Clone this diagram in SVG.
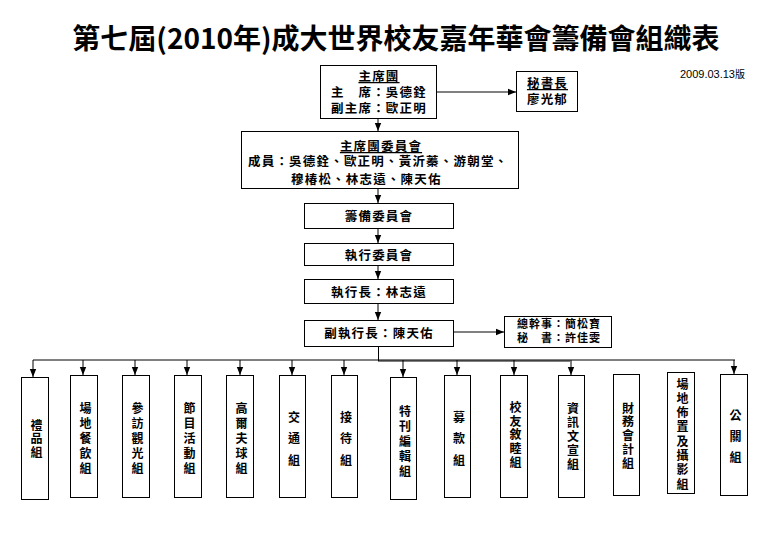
<svg xmlns="http://www.w3.org/2000/svg" width="780" height="540" viewBox="0 0 780 540">
<defs>
<style>
.bx{fill:#fff;stroke:#000;stroke-width:1}
.t{font-family:"Liberation Sans","Noto Sans CJK TC","Noto Sans CJK SC",sans-serif;font-weight:700;font-size:12.5px;letter-spacing:1.2px;fill:#000}
.s{font-family:"Liberation Sans","Noto Sans CJK TC","Noto Sans CJK SC",sans-serif;font-weight:700;font-size:11px;letter-spacing:1px;fill:#000}
.v{font-family:"Liberation Sans","Noto Sans CJK TC","Noto Sans CJK SC",sans-serif;font-weight:700;font-size:12px;fill:#000;writing-mode:vertical-rl;text-anchor:start}
.m{text-anchor:middle}
.ln{fill:none;stroke:#000;stroke-width:1}
</style>
<marker id="ah" viewBox="0 0 8 8" refX="8" refY="4" markerWidth="8" markerHeight="8" markerUnits="userSpaceOnUse" orient="auto">
<path d="M0,0.8 L8,4 L0,7.2 Z" fill="#000"/>
</marker>
</defs>
<rect width="780" height="540" fill="#fff"/>
<text x="396" y="49" font-family="'Noto Sans CJK TC','Noto Sans CJK SC',sans-serif" font-weight="700" font-size="28" text-anchor="middle">第七屆(2010年)成大世界校友嘉年華會籌備會組織表</text>
<text x="745" y="78" font-family="'Liberation Sans',Arial,'Noto Sans CJK TC',sans-serif" font-size="11" text-anchor="end">2009.03.13<tspan font-size="10">版</tspan></text>

<g id="connectors">
<line class="ln" x1="436" y1="92" x2="516" y2="92" marker-end="url(#ah)"/>
<line class="ln" x1="378" y1="118" x2="378" y2="131" marker-end="url(#ah)"/>
<line class="ln" x1="378" y1="189" x2="378" y2="203" marker-end="url(#ah)"/>
<line class="ln" x1="378" y1="228" x2="378" y2="243" marker-end="url(#ah)"/>
<line class="ln" x1="378" y1="266" x2="378" y2="279" marker-end="url(#ah)"/>
<line class="ln" x1="378" y1="303" x2="378" y2="320" marker-end="url(#ah)"/>
<line class="ln" x1="453" y1="332" x2="504" y2="332" marker-end="url(#ah)"/>
<line class="ln" x1="378.5" y1="346" x2="378.5" y2="361"/>
<line class="ln" x1="33" y1="360" x2="735" y2="360"/>
<line class="ln" x1="378" y1="361" x2="570" y2="361"/>
<line class="ln" x1="33" y1="360" x2="33" y2="377" marker-end="url(#ah)"/>
<line class="ln" x1="83" y1="360" x2="83" y2="375" marker-end="url(#ah)"/>
<line class="ln" x1="135" y1="360" x2="135" y2="375" marker-end="url(#ah)"/>
<line class="ln" x1="187" y1="360" x2="187" y2="375" marker-end="url(#ah)"/>
<line class="ln" x1="240" y1="360" x2="240" y2="375" marker-end="url(#ah)"/>
<line class="ln" x1="292" y1="360" x2="292" y2="375" marker-end="url(#ah)"/>
<line class="ln" x1="344" y1="360" x2="344" y2="375" marker-end="url(#ah)"/>
<line class="ln" x1="403" y1="360" x2="403" y2="377" marker-end="url(#ah)"/>
<line class="ln" x1="457" y1="360" x2="457" y2="375" marker-end="url(#ah)"/>
<line class="ln" x1="514" y1="360" x2="514" y2="375" marker-end="url(#ah)"/>
<line class="ln" x1="571" y1="360" x2="571" y2="375" marker-end="url(#ah)"/>
<line class="ln" x1="734" y1="360" x2="734" y2="374" marker-end="url(#ah)"/>
</g>

<g id="n-chair">
<rect class="bx" x="320.5" y="65.5" width="116" height="53"/>
<text class="t m" x="379" y="81" text-decoration="underline">主席團</text>
<text class="t m" x="379" y="97">主　席：吳德銓</text>
<text class="t m" x="379" y="113">副主席：歐正明</text>
</g>
<g id="n-secgen">
<rect class="bx" x="516.5" y="71.5" width="61" height="40"/>
<text class="t m" x="547.5" y="88" text-decoration="underline">秘書長</text>
<text class="t m" x="547.5" y="104">廖光郁</text>
</g>
<g id="n-committee">
<rect class="bx" x="241.5" y="131.5" width="277" height="57"/>
<text class="t m" x="381" y="151" text-decoration="underline">主席團委員會</text>
<text class="t" x="248" y="166">成員：吳德銓、歐正明、黃沂蓁、游朝堂、</text>
<text class="t" x="291" y="184">穆椿松、林志遠、陳天佑</text>
</g>
<g id="n-prep">
<rect class="bx" x="304.5" y="203.5" width="149" height="25"/>
<text class="t m" x="379" y="221">籌備委員會</text>
</g>
<g id="n-exec">
<rect class="bx" x="304.5" y="243.5" width="149" height="22"/>
<text class="t m" x="379" y="260">執行委員會</text>
</g>
<g id="n-ceo">
<rect class="bx" x="304.5" y="279.5" width="149" height="24"/>
<text class="t m" x="379" y="297">執行長：林志遠</text>
</g>
<g id="n-vceo">
<rect class="bx" x="304.5" y="320.5" width="149" height="26"/>
<text class="t m" x="379" y="338">副執行長：陳天佑</text>
</g>
<g id="n-staff">
<rect class="bx" x="504.5" y="316.5" width="107" height="31"/>
<text class="s m" x="559" y="328">總幹事：簡松寶</text>
<text class="s m" x="559" y="342">秘　書：許佳雯</text>
</g>

<g id="g1"><rect class="bx" x="21.5" y="377.5" width="27" height="122"/>
<text class="v" x="35" y="419" letter-spacing="1.5">禮品組</text></g>
<g id="g2"><rect class="bx" x="70.5" y="375.5" width="27" height="122"/>
<text class="v" x="84" y="402" letter-spacing="3">場地餐飲組</text></g>
<g id="g3"><rect class="bx" x="122.5" y="375.5" width="27" height="122"/>
<text class="v" x="136" y="402" letter-spacing="3">參訪觀光組</text></g>
<g id="g4"><rect class="bx" x="174.5" y="375.5" width="27" height="122"/>
<text class="v" x="188" y="402" letter-spacing="3">節目活動組</text></g>
<g id="g5"><rect class="bx" x="226.5" y="375.5" width="27" height="122"/>
<text class="v" x="240" y="402" letter-spacing="3">高爾夫球組</text></g>
<g id="g6"><rect class="bx" x="279.5" y="375.5" width="26" height="122"/>
<text class="v" x="292.5" y="411" letter-spacing="9.5">交通組</text></g>
<g id="g7"><rect class="bx" x="331.5" y="375.5" width="26" height="122"/>
<text class="v" x="344.5" y="411" letter-spacing="9.5">接待組</text></g>
<g id="g8"><rect class="bx" x="390.5" y="377.5" width="26" height="122"/>
<text class="v" x="403.5" y="405" letter-spacing="3">特刊編輯組</text></g>
<g id="g9"><rect class="bx" x="444.5" y="375.5" width="26" height="122"/>
<text class="v" x="457.5" y="411" letter-spacing="9.5">募款組</text></g>
<g id="g10"><rect class="bx" x="500.5" y="375.5" width="27" height="122"/>
<text class="v" x="514" y="401.5" letter-spacing="1.7">校友敘睦組</text></g>
<g id="g11"><rect class="bx" x="558.5" y="375.5" width="26" height="122"/>
<text class="v" x="571.5" y="402" letter-spacing="2.2">資訊文宣組</text></g>
<g id="g12"><rect class="bx" x="613.5" y="374.5" width="26" height="121"/>
<text class="v" x="626.5" y="402" letter-spacing="1.8">財務會計組</text></g>
<g id="g13"><rect class="bx" x="667.5" y="372.5" width="27" height="121"/>
<text class="v" x="681" y="378" letter-spacing="2.3">場地佈置及攝影組</text></g>
<g id="g14"><rect class="bx" x="720.5" y="374.5" width="27" height="121"/>
<text class="v" x="734" y="409" letter-spacing="9">公關組</text></g>
</svg>
